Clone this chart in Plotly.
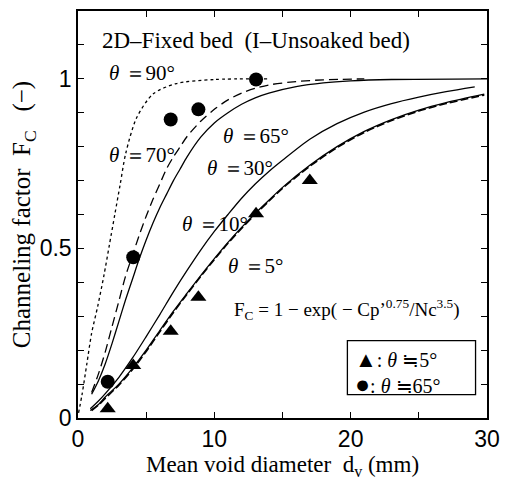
import plotly.graph_objects as go

# ---- data ----
x90 = [0.04, 0.3, 0.65, 1.0, 1.45, 1.9, 2.3, 2.7, 3.1, 3.5, 4.3, 5.5, 7.2, 10, 14]
f90 = [0.015, 0.07, 0.16, 0.25, 0.33, 0.42, 0.51, 0.60, 0.69, 0.78, 0.885, 0.955, 0.986, 0.998, 1.0]

x70 = [1.0, 1.5, 2.0, 2.5, 3.0, 3.5, 4.0, 4.5, 5.0, 5.5, 6.0, 6.5, 7.0, 7.5, 8.0, 9.0, 10, 11, 12, 13, 14, 16, 18, 21]
f70 = [0.075, 0.13, 0.195, 0.27, 0.345, 0.42, 0.48, 0.54, 0.595, 0.645, 0.69, 0.735, 0.77, 0.80, 0.83, 0.875, 0.91, 0.938, 0.958, 0.972, 0.982, 0.992, 0.997, 1.0]

x65 = [1.0, 1.5, 2.0, 2.5, 3.0, 3.5, 4.0, 4.5, 5.0, 5.5, 6.0, 6.5, 7.0, 7.5, 8.0, 9.0, 10, 11, 12, 13, 14, 16, 18, 20, 23, 30]
f65 = [0.07, 0.11, 0.16, 0.22, 0.285, 0.35, 0.41, 0.47, 0.525, 0.575, 0.62, 0.66, 0.70, 0.735, 0.77, 0.828, 0.87, 0.90, 0.925, 0.944, 0.958, 0.977, 0.988, 0.994, 0.998, 1.0]

x30 = [0.9, 1.5, 2.0, 3.0, 4.0, 5.0, 6.0, 7.0, 8.0, 9.0, 10, 11, 12, 13, 14, 15, 17, 19, 21, 23, 25, 27, 29.1]
f30 = [0.027, 0.05, 0.072, 0.12, 0.177, 0.24, 0.305, 0.372, 0.435, 0.495, 0.55, 0.60, 0.648, 0.69, 0.727, 0.76, 0.822, 0.868, 0.902, 0.927, 0.946, 0.962, 0.976]

x10 = [0.9, 1.5, 2.0, 3.0, 4.0, 5.0, 6.0, 7.0, 8.0, 9.0, 10, 11, 12, 13, 14, 15, 17, 19, 21, 23, 25, 27, 29.8]
f10 = [0.022, 0.04, 0.062, 0.10, 0.147, 0.20, 0.258, 0.315, 0.368, 0.42, 0.47, 0.518, 0.562, 0.603, 0.642, 0.68, 0.745, 0.80, 0.845, 0.88, 0.908, 0.93, 0.955]

x5 = [1.0, 1.5, 2.0, 3.0, 4.0, 5.0, 6.0, 7.0, 8.0, 9.0, 10, 11, 12, 13, 14, 15, 17, 19, 21, 23, 25, 27, 29.8]
f5 = [0.022, 0.038, 0.058, 0.097, 0.143, 0.196, 0.254, 0.311, 0.365, 0.417, 0.467, 0.515, 0.559, 0.60, 0.639, 0.677, 0.742, 0.797, 0.842, 0.877, 0.905, 0.927, 0.952]

tri_x = [2.18, 4.05, 6.8, 8.83, 13.06, 17.0]
tri_f = [0.027, 0.155, 0.256, 0.356, 0.602, 0.70]
cir_x = [2.18, 4.05, 6.8, 8.83, 13.06]
cir_f = [0.107, 0.474, 0.88, 0.91, 0.998]

serif = "Liberation Serif, Times New Roman, serif"
sans = "Liberation Sans, Arial, sans-serif"

fig = go.Figure()

def curve(x, y, dash, w=1.3):
    fig.add_trace(go.Scatter(x=x, y=y, mode="lines",
                             line=dict(color="black", width=w, dash=dash, shape="spline", smoothing=0.8),
                             showlegend=False, hoverinfo="skip"))

curve(x90, f90, "dot")
curve(x70, f70, "9px,5px")
curve(x65, f65, "solid")
curve(x30, f30, "solid")
curve(x10, f10, "solid")
curve(x5, f5, "8px,3px", 1.6)

fig.add_trace(go.Scatter(x=tri_x, y=tri_f, mode="markers", showlegend=False,
                         marker=dict(symbol="triangle-up", size=14, color="black")))
fig.add_trace(go.Scatter(x=cir_x, y=cir_f, mode="markers", showlegend=False,
                         marker=dict(symbol="circle", size=14, color="black")))

labels = [
    (1.6, 1.112, "2D–Fixed bed  (I–Unsoaked bed)", 23),
    (2.14, 1.016, "<i>θ</i> ＝90°", 21),
    (2.14, 0.776, "<i>θ</i> ＝70°", 21),
    (10.5, 0.831, "<i>θ</i> ＝65°", 21),
    (9.28, 0.738, "<i>θ</i> ＝30°", 21),
    (7.45, 0.573, "<i>θ</i> ＝10°", 21),
    (10.87, 0.448, "<i>θ</i> ＝5°", 21),
    (11.3, 0.321, "F<sub>C</sub> = 1 − exp( − Cp’<sup>0.75</sup>/Nc<sup>3.5</sup>)", 19),
]
for x, y, t, s in labels:
    fig.add_annotation(x=x, y=y, text=t, showarrow=False, xanchor="left", yanchor="middle",
                       font=dict(family=serif, size=s, color="black"))

# legend box drawn by hand
fig.add_shape(type="rect", x0=19.76, x1=29.16, y0=0.0687, y1=0.228,
              line=dict(color="black", width=1.3), fillcolor="white", layer="above")
fig.add_annotation(x=20.2, y=0.172, text="<span style='font-size:22px'>▲</span>: <i>θ</i> ≒5°",
                   showarrow=False, xanchor="left", yanchor="middle",
                   font=dict(family=serif, size=20, color="black"))
fig.add_annotation(x=20.2, y=0.100, text="<span style='font-size:25px'>●</span>: <i>θ</i> ≒65°",
                   showarrow=False, xanchor="left", yanchor="middle",
                   font=dict(family=serif, size=20, color="black"))

axis_common = dict(showline=True, linecolor="black", linewidth=1.5, mirror="allticks",
                   ticks="inside", ticklen=6, tickwidth=1.2, tickcolor="black",
                   showgrid=False, zeroline=False,
                   tickfont=dict(family=sans, size=23, color="black"))

fig.update_xaxes(range=[0, 30], dtick=10, tick0=0,
                 minor=dict(dtick=5, ticks="inside", ticklen=6, tickcolor="black"),
                 title=dict(text="Mean void diameter  d<sub>v</sub> (mm)",
                            font=dict(family=serif, size=23, color="black"), standoff=4),
                 **axis_common)
fig.update_yaxes(range=[0, 1.2], tickvals=[0, 0.5, 1], ticktext=["0", "0.5", "1"],
                 minor=dict(dtick=0.1, ticks="inside", ticklen=6, tickcolor="black"),
                 title=dict(text="Channeling factor  F<sub>C</sub>   (−)",
                            font=dict(family=serif, size=25, color="black"), standoff=0),
                 **axis_common)

fig.update_layout(width=509, height=481, margin=dict(l=78, r=20, t=9, b=58),
                  plot_bgcolor="white", paper_bgcolor="white", showlegend=False)

fig.write_html("out.html")
